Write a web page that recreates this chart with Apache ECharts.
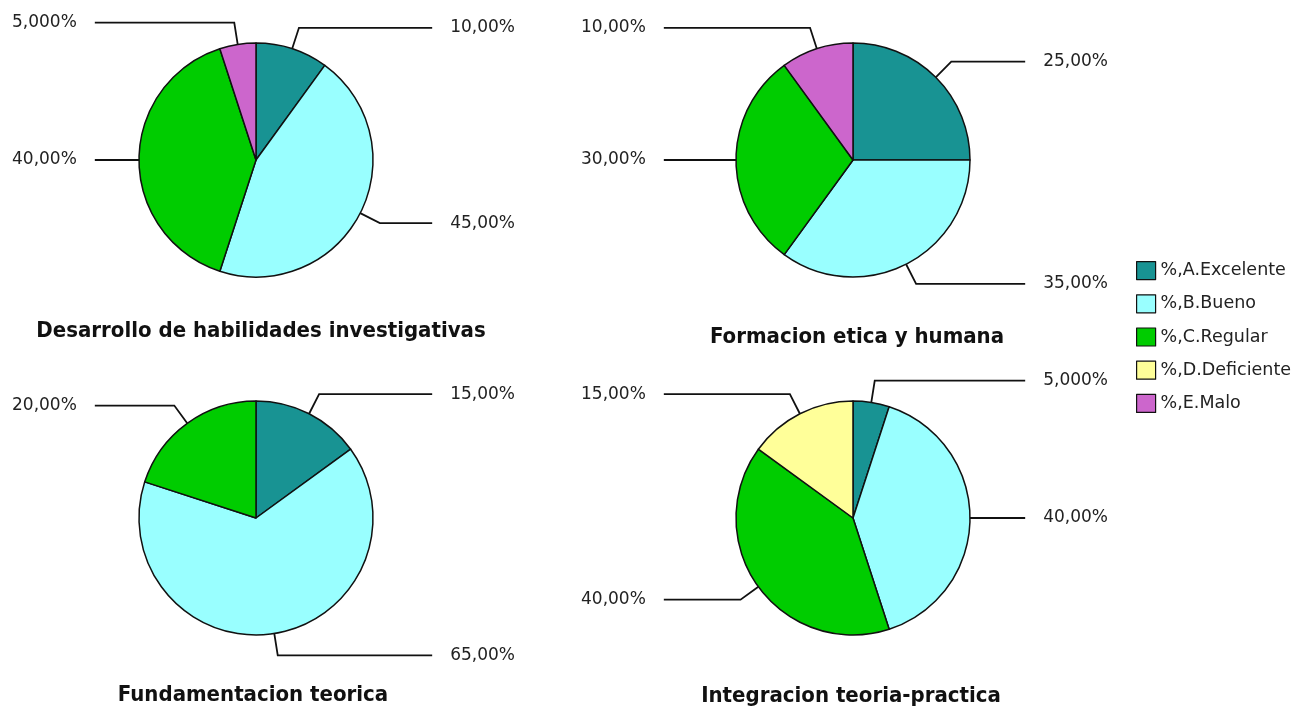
<!DOCTYPE html>
<html>
<head>
<meta charset="utf-8">
<script src="https://cdn.jsdelivr.net/npm/echarts@6/dist/echarts.min.js"></script>
<style>
  html, body { margin: 0; padding: 0; background: #fff; }
  #chart { width: 1303px; height: 708px; }
</style>
</head>
<body>
<div id="chart"></div>
<script>
// categorias (leyenda)
var categories = ["%,A.Excelente", "%,B.Bueno", "%,C.Regular", "%,D.Deficiente", "%,E.Malo"];
var colors = ["#189393", "#99ffff", "#00cc00", "#ffff99", "#cc66cc"];

// valores en %, null = categoria sin datos
var desarrollo = [10, 45, 40, null, 5];
var formacion = [25, 35, 30, null, 10];
var fundamentacion = [15, 65, 20, null, null];
var integracion = [5, 40, 40, 15, null];

var titles = [
  "Desarrollo de habilidades investigativas",
  "Formacion etica y humana",
  "Fundamentacion teorica",
  "Integracion teoria-practica"
];

function toData(values) {
  var out = [];
  values.forEach(function (v, i) {
    if (v === null) return;
    out.push({ name: categories[i], value: v, itemStyle: { color: colors[i] } });
  });
  return out;
}

function fmt(p) {
  return p.value.toPrecision(4).replace(".", ",") + "%";
}

// caja de cada pastel: [left, top, width, height, cx, cy]
var boxes = [
  [0, 0, 527, 360, 256, 160],
  [569, 0, 551, 360, 284, 160],
  [0, 360, 527, 348, 256, 158],
  [569, 360, 551, 348, 284, 158]
];
var sets = [desarrollo, formacion, fundamentacion, integracion];

var series = sets.map(function (vals, k) {
  var b = boxes[k];
  return {
    type: "pie",
    left: b[0], top: b[1], width: b[2], height: b[3],
    center: [b[4], b[5]],
    radius: 117,
    startAngle: 90,
    clockwise: true,
    silent: true,
    itemStyle: { borderColor: "#111", borderWidth: 1.5 },
    label: {
      show: true,
      position: "outside",
      alignTo: "edge",
      edgeDistance: 12,
      distanceToLabelLine: 18,
      formatter: fmt,
      color: "#222",
      fontFamily: "DejaVu Sans",
      fontSize: 17
    },
    labelLine: {
      show: true,
      length: 22,
      length2: 10,
      lineStyle: { color: "#111", width: 1.8 }
    },
    emphasis: { disabled: true },
    data: toData(vals)
  };
});

var titlePos = [[261, 320], [857, 326], [253, 684], [851, 685]];

var chart = echarts.init(document.getElementById("chart"));
chart.setOption({
  backgroundColor: "#ffffff",
  animation: false,
  title: titles.map(function (t, i) {
    return {
      text: t,
      left: titlePos[i][0],
      top: titlePos[i][1],
      textAlign: "center",
      padding: 0,
      textStyle: {
        fontFamily: "Liberation Sans Narrow, DejaVu Sans Condensed, sans-serif",
        fontWeight: "bold",
        fontSize: 22,
        color: "#111"
      }
    };
  }),
  legend: {
    orient: "vertical",
    left: 1136,
    top: 261,
    padding: 0,
    itemWidth: 19,
    itemHeight: 18,
    itemGap: 14,
    icon: "rect",
    selectedMode: false,
    itemStyle: { borderColor: "#111", borderWidth: 1.2 },
    textStyle: { fontFamily: "DejaVu Sans", fontSize: 17.5, color: "#222" },
    data: categories
  },
  series: series
});
</script>
</body>
</html>
